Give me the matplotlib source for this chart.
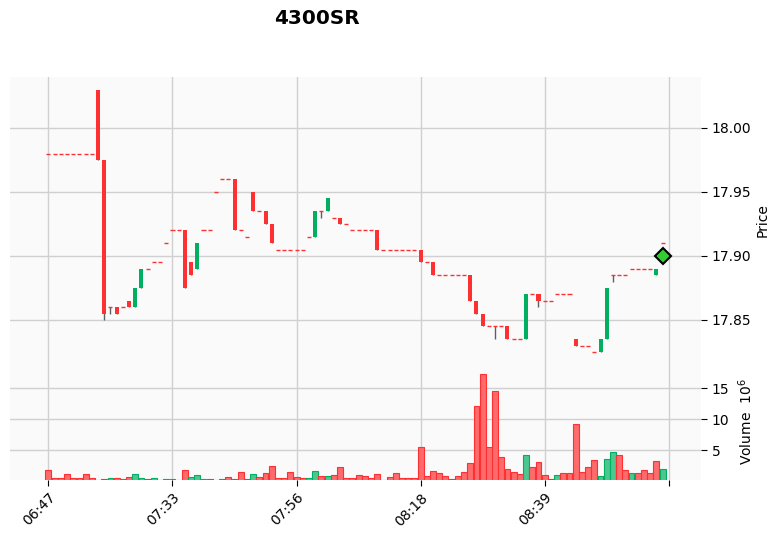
import numpy as np
import matplotlib
matplotlib.use("Agg")
from matplotlib import pyplot as plt

# OHLC values, one entry per bar
opens = [17.98, 17.98, 17.98, 17.98, 17.98, 17.98, 17.98, 17.98, 18.03, 17.975,
         17.86, 17.86, 17.86, 17.865, 17.86, 17.875, 17.89, 17.895, 17.895, 17.91,
         17.92, 17.92, 17.92, 17.895, 17.89, 17.92, 17.92, 17.95, 17.96, 17.96,
         17.96, 17.92, 17.915, 17.95, 17.935, 17.935, 17.925, 17.905, 17.905, 17.905,
         17.905, 17.905, 17.915, 17.915, 17.935, 17.935, 17.93, 17.93, 17.925, 17.92,
         17.92, 17.92, 17.92, 17.92, 17.905, 17.905, 17.905, 17.905, 17.905, 17.905,
         17.905, 17.895, 17.895, 17.885, 17.885, 17.885, 17.885, 17.885, 17.885, 17.865,
         17.855, 17.845, 17.845, 17.845, 17.845, 17.835, 17.835, 17.835, 17.87, 17.87,
         17.865, 17.865, 17.87, 17.87, 17.87, 17.835, 17.83, 17.83, 17.825, 17.825,
         17.835, 17.885, 17.885, 17.885, 17.89, 17.89, 17.89, 17.89, 17.885, 17.91]
highs = [17.98, 17.98, 17.98, 17.98, 17.98, 17.98, 17.98, 17.98, 18.03, 17.975,
         17.86, 17.86, 17.86, 17.865, 17.875, 17.89, 17.89, 17.895, 17.895, 17.91,
         17.92, 17.92, 17.92, 17.895, 17.91, 17.92, 17.92, 17.95, 17.96, 17.96,
         17.96, 17.92, 17.915, 17.95, 17.935, 17.935, 17.925, 17.905, 17.905, 17.905,
         17.905, 17.905, 17.915, 17.935, 17.935, 17.945, 17.93, 17.93, 17.925, 17.92,
         17.92, 17.92, 17.92, 17.92, 17.905, 17.905, 17.905, 17.905, 17.905, 17.905,
         17.905, 17.895, 17.895, 17.885, 17.885, 17.885, 17.885, 17.885, 17.885, 17.865,
         17.855, 17.845, 17.845, 17.845, 17.845, 17.835, 17.835, 17.87, 17.87, 17.87,
         17.865, 17.865, 17.87, 17.87, 17.87, 17.835, 17.83, 17.83, 17.825, 17.835,
         17.875, 17.885, 17.885, 17.885, 17.89, 17.89, 17.89, 17.89, 17.89, 17.91]
lows = [17.98, 17.98, 17.98, 17.98, 17.98, 17.98, 17.98, 17.98, 17.975, 17.85,
        17.855, 17.855, 17.86, 17.86, 17.86, 17.875, 17.89, 17.895, 17.895, 17.91,
        17.92, 17.92, 17.875, 17.885, 17.89, 17.92, 17.92, 17.95, 17.96, 17.96,
        17.92, 17.92, 17.915, 17.935, 17.935, 17.925, 17.91, 17.905, 17.905, 17.905,
        17.905, 17.905, 17.915, 17.915, 17.93, 17.935, 17.93, 17.925, 17.925, 17.92,
        17.92, 17.92, 17.92, 17.905, 17.905, 17.905, 17.905, 17.905, 17.905, 17.905,
        17.895, 17.895, 17.885, 17.885, 17.885, 17.885, 17.885, 17.885, 17.865, 17.855,
        17.845, 17.845, 17.835, 17.845, 17.835, 17.835, 17.835, 17.835, 17.87, 17.86,
        17.865, 17.865, 17.87, 17.87, 17.87, 17.83, 17.83, 17.83, 17.825, 17.825,
        17.835, 17.88, 17.885, 17.885, 17.89, 17.89, 17.89, 17.89, 17.885, 17.91]
closes = [17.98, 17.98, 17.98, 17.98, 17.98, 17.98, 17.98, 17.98, 17.975, 17.855,
          17.86, 17.855, 17.86, 17.86, 17.875, 17.89, 17.89, 17.895, 17.895, 17.91,
          17.92, 17.92, 17.875, 17.885, 17.91, 17.92, 17.92, 17.95, 17.96, 17.96,
          17.92, 17.92, 17.915, 17.935, 17.935, 17.925, 17.91, 17.905, 17.905, 17.905,
          17.905, 17.905, 17.915, 17.935, 17.935, 17.945, 17.93, 17.925, 17.925, 17.92,
          17.92, 17.92, 17.92, 17.905, 17.905, 17.905, 17.905, 17.905, 17.905, 17.905,
          17.895, 17.895, 17.885, 17.885, 17.885, 17.885, 17.885, 17.885, 17.865, 17.855,
          17.845, 17.845, 17.845, 17.845, 17.835, 17.835, 17.835, 17.87, 17.87, 17.865,
          17.865, 17.865, 17.87, 17.87, 17.87, 17.83, 17.83, 17.83, 17.825, 17.835,
          17.875, 17.885, 17.885, 17.885, 17.89, 17.89, 17.89, 17.89, 17.89, 17.91]
# volume in millions
volumes = [1.78, 0.41, 0.41, 1.07, 0.41, 0.41, 1.07, 0.41, 0.2, 0.3,
           0.41, 0.41, 0.25, 0.57, 1.07, 0.41, 0.25, 0.41, 0.2, 0.25,
           0.25, 0.2, 1.72, 0.57, 0.9, 0.25, 0.25, 0.2, 0.25, 0.57,
           0.25, 1.39, 0.25, 1.07, 0.57, 1.23, 2.38, 0.41, 0.41, 1.39,
           0.57, 0.41, 0.41, 1.56, 0.74, 0.74, 0.9, 2.21, 0.41, 0.41,
           0.9, 0.74, 0.41, 1.07, 0.2, 0.57, 1.23, 0.41, 0.41, 0.41,
           5.49, 0.74, 1.56, 1.23, 0.74, 0.25, 0.74, 1.39, 2.87, 12.05,
           17.35, 5.49, 14.5, 3.85, 1.89, 1.39, 1.07, 4.18, 2.21, 3.03,
           0.9, 0.25, 0.9, 1.23, 1.23, 9.15, 1.39, 2.21, 3.36, 0.74,
           3.52, 4.67, 4.18, 1.72, 1.23, 1.23, 1.72, 1.23, 3.2, 1.89]

tick_pos = [0, 20, 40, 60, 80, 100]
tick_labels = ['06:47', '07:33', '07:56', '08:18', '08:39', '']

marker_idx = 99
marker_price = 17.90

up, down = '#00b060', '#fe3032'
vup, vdown = '#4dc790', '#fd6b6c'
wick = '#606060'
grid = '#d0d0d0'

o = np.array(opens)
h = np.array(highs)
l = np.array(lows)
c = np.array(closes)
x = np.arange(len(o))

fig = plt.figure(figsize=(7.79, 5.37), dpi=100)
ax = fig.add_axes([0.0128, 0.3222, 0.8871, 0.5344])
axv = fig.add_axes([0.0128, 0.1061, 0.8871, 0.2161], sharex=ax)

for a in (ax, axv):
    a.set_facecolor('#fafafa')
    a.set_axisbelow(True)
    a.grid(True, color=grid, lw=1)
    for s in a.spines.values():
        s.set_visible(False)
    a.yaxis.tick_right()
    a.yaxis.set_label_position('right')

# wicks
ax.vlines(x, l, h, color=wick, lw=1, zorder=2)

# bodies
w = 0.65
body = c != o
cols = np.where(c > o, up, down)
ax.bar(x[body], np.abs(c - o)[body], bottom=np.minimum(o, c)[body], width=w,
       color=cols[body], zorder=3)
ax.hlines(o[~body], x[~body] - w / 2, x[~body] + w / 2, color=down, lw=1, zorder=3)

ax.plot([marker_idx], [marker_price], marker='D', ms=8, color='#33cc33',
        mec='black', mew=1.5, ls='none', zorder=4)

# volume colour follows close vs previous close
vcols = [vup if c[0] > o[0] else vdown]
vcols += [vup if c[i] > c[i - 1] else vdown for i in range(1, len(c))]
ecols = [up if v == vup else down for v in vcols]
axv.bar(x, volumes, width=0.95, color=vcols, edgecolor=ecols, lw=0.8, zorder=3)

ax.set_xlim(-6.2, 105.2)
ax.set_ylim(17.8156, 18.0398)
ax.set_yticks([17.85, 17.90, 17.95, 18.00])
ax.set_yticklabels(['17.85', '17.90', '17.95', '18.00'])
ax.tick_params(axis='x', bottom=False, labelbottom=False)
ax.tick_params(axis='y', labelsize=10, length=4)
ax.set_ylabel('Price', fontsize=10, labelpad=3)

axv.set_ylim(0.16, 18.9)
axv.set_yticks([5, 10, 15])
axv.tick_params(axis='y', labelsize=10, length=4)
axv.set_ylabel('Volume  $10^{6}$', fontsize=10, labelpad=5)
axv.set_xticks(tick_pos)
axv.set_xticklabels(tick_labels, rotation=45, ha='right', rotation_mode='anchor', fontsize=10)
axv.tick_params(axis='x', length=4)

fig.text(0.407, 0.966, '4300SR', fontsize=14.4, fontweight='bold', ha='center', va='center')

fig.savefig('out.png', dpi=100)
